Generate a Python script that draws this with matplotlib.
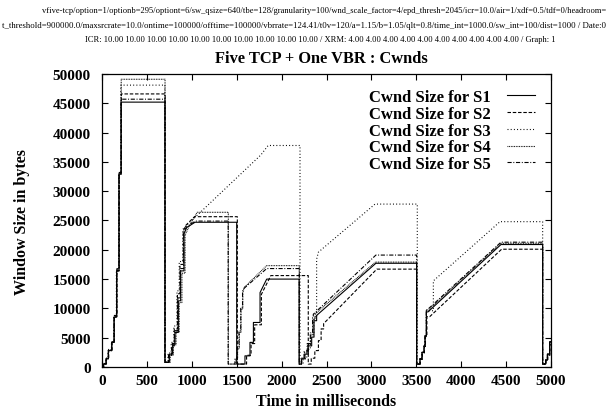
import matplotlib
matplotlib.use("Agg")
import matplotlib.pyplot as plt

# フォント設定 (Times 相当)
plt.rcParams['font.family'] = ['Liberation Serif', 'DejaVu Serif']
plt.rcParams['font.weight'] = 'bold'
plt.rcParams['axes.labelweight'] = 'bold'
plt.rcParams['lines.scale_dashes'] = False

W, H = 606, 414

# --- data ---
x_ticks = [0, 500, 1000, 1500, 2000, 2500, 3000, 3500, 4000, 4500, 5000]
y_ticks = [0, 5000, 10000, 15000, 20000, 25000, 30000, 35000, 40000, 45000, 50000]

labels = ['Cwnd Size for S1', 'Cwnd Size for S2', 'Cwnd Size for S3',
          'Cwnd Size for S4', 'Cwnd Size for S5']

s1_t = [0, 15, 15, 45, 45, 70, 70, 108, 108, 134, 134, 163, 163, 189, 189, 212, 212, 701, 701,
        750, 750, 787, 787, 813, 813, 850, 850, 876, 876, 913, 913, 943, 1036, 1500, 1500,
        1592, 1592, 1648, 1648, 1686, 1686, 1760, 1760, 1834, 2195, 2195,
        2223, 2223, 2260, 2260, 2297, 2297, 2335, 2335, 2361, 2361, 2390, 2390, 3050, 3504, 3504,
        3541, 3541, 3563, 3563, 3586, 3586, 3597, 3597, 3612, 3612, 3630, 4443, 4907, 4907,
        4940, 4940, 4960, 4960, 4985, 4985, 5000]
s1_w = [0, 0, 500, 500, 1400, 1400, 2800, 2800, 4200, 4200, 8500, 8500, 16400, 16400, 32900, 32900, 45200, 45200, 800,
        800, 2200, 2200, 3900, 3900, 5900, 5900, 11300, 11300, 16400, 16400, 22700, 23800, 24700, 24700, 500,
        500, 1900, 1900, 4200, 4200, 7600, 7600, 12700, 15000, 15000, 500,
        500, 1400, 1400, 2200, 2200, 3600, 3600, 5100, 5100, 7900, 7900, 8800, 17700, 17700, 500,
        500, 1400, 1400, 2500, 2500, 3600, 3600, 5300, 5300, 9400, 9400, 20900, 20900, 500,
        500, 1200, 1200, 2200, 2200, 4300, 4300]

s2_t = [0, 20, 20, 50, 50, 75, 75, 112, 112, 138, 138, 167, 167, 192, 192, 215, 215, 703, 703,
        740, 740, 775, 775, 805, 805, 840, 840, 868, 868, 905, 905, 935, 1030, 1507, 1507,
        1610, 1610, 1660, 1660, 1700, 1700, 1775, 1775, 1880, 2297, 2297,
        2330, 2330, 2370, 2370, 2410, 2410, 2440, 2440, 2468, 2468, 3060, 3504, 3504,
        3545, 3545, 3568, 3568, 3590, 3590, 3602, 3602, 3618, 3618, 3650, 4450, 4907, 4907,
        4945, 4945, 4965, 4965, 4988, 4988, 5000]
s2_w = [0, 0, 600, 600, 1500, 1500, 3000, 3000, 4400, 4400, 8800, 8800, 16800, 16800, 33200, 33200, 46600, 46600, 800,
        800, 2000, 2000, 3600, 3600, 6500, 6500, 12500, 12500, 17500, 17500, 23200, 24200, 25650, 25650, 500,
        500, 2000, 2000, 4000, 4000, 7200, 7200, 12400, 15600, 15600, 500,
        500, 1500, 1500, 2800, 2800, 4500, 4500, 6500, 6500, 7400, 16700, 16700, 500,
        500, 1300, 1300, 2400, 2400, 3500, 3500, 5200, 5200, 8600, 8600, 20100, 20100, 500,
        500, 1100, 1100, 2000, 2000, 3800, 3800]

s3_t = [0, 12, 12, 42, 42, 68, 68, 105, 105, 131, 131, 160, 160, 186, 186, 210, 210, 700, 700,
        735, 735, 770, 770, 800, 800, 835, 835, 860, 860, 900, 900, 943, 1150, 1770, 1850, 2205, 2205,
        2240, 2240, 2280, 2280, 2320, 2320, 2360, 2360, 2390, 2390, 2410, 3040, 3511, 3511,
        3541, 3541, 3563, 3563, 3586, 3586, 3597, 3597, 3612, 3612, 3690, 3690, 4432, 4907, 4907,
        4940, 4940, 4960, 4960, 4985, 4985, 5000]
s3_w = [0, 0, 500, 500, 1400, 1400, 2800, 2800, 4300, 4300, 8700, 8700, 16600, 16600, 33000, 33000, 48100, 48100, 800,
        800, 2400, 2400, 4200, 4200, 7000, 7000, 13000, 13000, 18000, 18000, 23500, 24200, 27200, 36200, 37800, 37800, 500,
        500, 1400, 1400, 3000, 3000, 5500, 5500, 8500, 8500, 18400, 19600, 27800, 27800, 500,
        500, 1400, 1400, 2500, 2500, 3600, 3600, 5300, 5300, 9600, 9600, 14700, 24800, 24800, 500,
        500, 1200, 1200, 2200, 2200, 4300, 4300]

s4_t = [0, 18, 18, 48, 48, 72, 72, 110, 110, 136, 136, 165, 165, 190, 190, 214, 214, 702, 702,
        760, 760, 795, 795, 825, 825, 860, 860, 890, 890, 925, 925, 970, 1060, 1407, 1407,
        1490, 1490, 1510, 1510, 1530, 1530, 1548, 1548, 1568, 1568, 1585, 1834, 2197, 2197,
        2225, 2225, 2255, 2255, 2290, 2290, 2325, 2325, 2350, 2350, 2375, 2375, 3045, 3504, 3504,
        3541, 3541, 3563, 3563, 3586, 3586, 3597, 3597, 3612, 3612, 3625, 4440, 4907, 4907,
        4940, 4940, 4960, 4960, 4985, 4985, 5000]
s4_w = [0, 0, 500, 500, 1500, 1500, 2900, 2900, 4300, 4300, 8600, 8600, 16500, 16500, 33000, 33000, 49100, 49100, 800,
        800, 2000, 2000, 3800, 3800, 6000, 6000, 11000, 11000, 16000, 16000, 22500, 24000, 26400, 26400, 500,
        500, 1400, 1400, 3100, 3100, 5900, 5900, 9900, 9900, 12700, 13600, 17300, 17300, 500,
        500, 1500, 1500, 2500, 2500, 3800, 3800, 5500, 5500, 8200, 8200, 9100, 17900, 17900, 500,
        500, 1400, 1400, 2500, 2500, 3600, 3600, 5300, 5300, 9600, 9600, 21100, 21100, 500,
        500, 1200, 1200, 2200, 2200, 4300, 4300]

s5_t = [0, 16, 16, 46, 46, 71, 71, 109, 109, 135, 135, 164, 164, 189, 189, 213, 213, 701, 701,
        745, 745, 782, 782, 810, 810, 845, 845, 872, 872, 910, 910, 940, 1040, 1405, 1405,
        1480, 1480, 1505, 1505, 1525, 1525, 1545, 1545, 1565, 1565, 1580, 1834, 2197, 2197,
        2220, 2220, 2250, 2250, 2285, 2285, 2320, 2320, 2345, 2345, 2353, 2353, 3050, 3504, 3504,
        3541, 3541, 3563, 3563, 3586, 3586, 3597, 3597, 3612, 3612, 3625, 4443, 4907, 4907,
        4940, 4940, 4960, 4960, 4985, 4985, 5000]
s5_w = [0, 0, 500, 500, 1400, 1400, 2800, 2800, 4200, 4200, 8500, 8500, 16400, 16400, 32900, 32900, 45700, 45700, 800,
        800, 2100, 2100, 4000, 4000, 6200, 6200, 11800, 11800, 16800, 16800, 23000, 23900, 24900, 24900, 500,
        500, 1500, 1500, 3300, 3300, 6200, 6200, 10200, 10200, 12900, 13400, 16800, 16800, 500,
        500, 1500, 1500, 2600, 2600, 4000, 4000, 5800, 5800, 8400, 8400, 9000, 19100, 19100, 500,
        500, 1400, 1400, 2500, 2500, 3600, 3600, 5300, 5300, 9800, 9800, 21300, 21300, 500,
        500, 1200, 1200, 2200, 2200, 4300, 4300]

header1 = ("vfive-tcp/option=1/optionb=295/optiont=6/sw_qsize=640/tbe=128/granularity=100/"
           "wnd_scale_factor=4/epd_thresh=2045/icr=10.0/air=1/xdf=0.5/tdf=0/headroom=1")
header2 = ("t_threshold=900000.0/maxsrcrate=10.0/ontime=100000/offtime=100000/vbrrate=124.41/"
           "t0v=120/a=1.15/b=1.05/qlt=0.8/time_int=1000.0/sw_int=100/dist=1000 / Date:02")
header3 = ("ICR: 10.00 10.00 10.00 10.00 10.00 10.00 10.00 10.00 10.00 10.00 / "
           "XRM: 4.00 4.00 4.00 4.00 4.00 4.00 4.00 4.00 4.00 4.00 / Graph: 1")

# --- figure ---
fig = plt.figure(figsize=(W / 100, H / 100), dpi=100)
ax = fig.add_axes([102 / W, 1 - 368 / H, 449 / W, 293 / H])

series = [(s1_t, s1_w), (s2_t, s2_w), (s3_t, s3_w), (s4_t, s4_w), (s5_t, s5_w)]
styles = ['-', (0, (2.5, 1.3)), (0, (0.7, 1.6)), (0, (0.6, 0.6)), (0, (3.0, 1.2, 0.7, 1.2))]
for (t, w), ls, lab in zip(series, styles, labels):
    ax.plot(t, w, color='black', linestyle=ls, linewidth=0.8, label=lab)

ax.set_xlim(0, 5000)
ax.set_ylim(0, 50000)
ax.set_xticks(x_ticks)
ax.set_yticks(y_ticks)
ax.tick_params(direction='in', length=4, width=0.8, top=True, right=True,
               labelsize=11)
ax.tick_params(axis='y', pad=8)
ax.tick_params(axis='x', pad=5)
for sp in ax.spines.values():
    sp.set_linewidth(0.9)

ax.set_xlabel('Time in milliseconds', fontsize=11.5, fontweight='bold', va='center')
ax.xaxis.set_label_coords((326 - 102) / 449, (368 - 402) / 293)
ax.set_ylabel('Window Size in bytes', fontsize=11.5, fontweight='bold', va='center')
ax.yaxis.set_label_coords((22 - 102) / 449, (368 - 222) / 293)

leg = ax.legend(loc='upper right', bbox_to_anchor=((535 - 102) / 449, (368 - 90) / 293),
                frameon=False, markerfirst=False, fontsize=12, handlelength=1.7,
                handletextpad=0.95, labelspacing=0.05, borderpad=0, borderaxespad=0)

# タイトルとヘッダー
fig.text(321 / W, 1 - 59 / H, 'Five TCP + One VBR : Cwnds', fontsize=11.8,
         fontweight='bold', ha='center', va='center')
fig.text(42 / W, 1 - 11 / H, header1, fontsize=6.15, fontweight='normal', ha='left', va='center')
fig.text(2 / W, 1 - 26 / H, header2, fontsize=6.3, fontweight='normal', ha='left', va='center')
fig.text(320 / W, 1 - 40 / H, header3, fontsize=6.15, fontweight='normal', ha='center', va='center')

fig.savefig('out.png', dpi=100)
